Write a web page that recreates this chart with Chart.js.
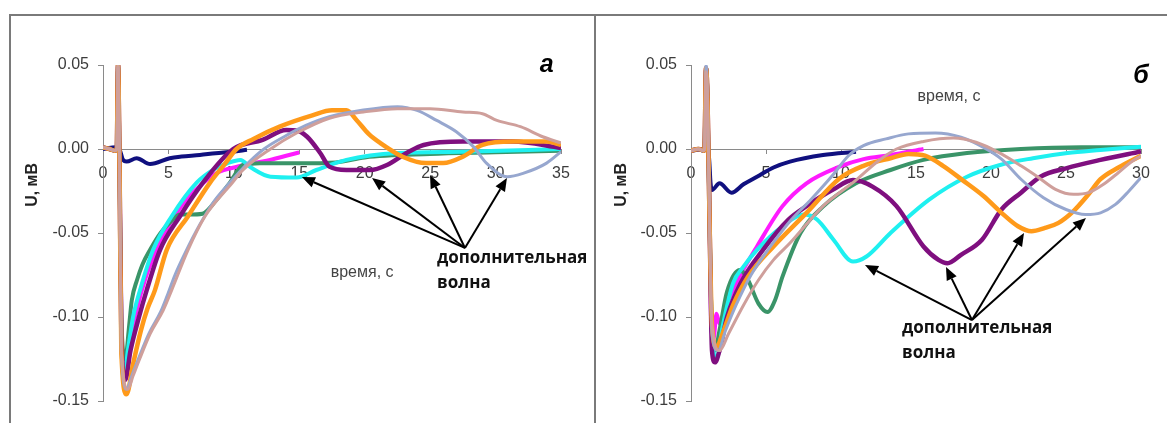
<!DOCTYPE html>
<html>
<head>
<meta charset="utf-8">
<script src="https://cdn.jsdelivr.net/npm/chart.js@4.4.1/dist/chart.umd.min.js"></script>
<style>
  html, body { margin: 0; padding: 0; background: #fff; }
  #wrap { position: relative; width: 1167px; height: 423px; overflow: hidden; background: #fff; }
  .frame { position: absolute; background: #7a7a7a; }
  canvas { position: absolute; top: 0; }
</style>
</head>
<body>
<div id="wrap">
  <div class="frame" style="left:9px;top:14px;width:1158px;height:2px"></div>
  <div class="frame" style="left:9px;top:14px;width:2px;height:409px"></div>
  <div class="frame" style="left:594px;top:14px;width:2px;height:409px"></div>
  <canvas id="chartA" width="594" height="423" style="left:0;width:594px;height:423px"></canvas>
  <canvas id="chartB" width="570" height="423" style="left:597px;width:570px;height:423px"></canvas>
</div>
<script>
// panel а: time, s / U, mV
const a_navy = [[0,0],[1.0,0.001],[1.3,-0.001],[1.5,-0.006],[1.8,-0.0075],[2.57,-0.0055],[3.6,-0.009],[5.1,-0.0055],[6,-0.0045],[7.4,-0.0036],[8.6,-0.0025],[9.9,-0.0016],[11,-0.0005]]
const a_magenta = [[0,0.001],[0.5,0],[0.9,-0.001],[1.05,0],[1.15,0.05],[1.25,0],[1.4,-0.1],[1.6,-0.13],[1.9,-0.128],[2.2,-0.11],[2.6,-0.095],[3.2,-0.078],[4,-0.062],[5,-0.046],[6,-0.034],[7,-0.025],[8,-0.018],[8.9,-0.0135],[10,-0.011],[11,-0.009],[12.5,-0.007],[14,-0.004],[15,-0.002]]
const a_green = [[0,0.001],[0.5,0],[0.9,-0.001],[1.05,0],[1.15,0.05],[1.25,0],[1.4,-0.1],[1.7,-0.125],[2.0,-0.105],[2.2,-0.09],[2.6,-0.078],[3.0,-0.069],[3.6,-0.06],[4.4,-0.05],[5.2,-0.043],[5.9,-0.039],[6.6,-0.039],[7.6,-0.0385],[8.7,-0.03],[9.7,-0.02],[10.7,-0.0095],[12,-0.0085],[15,-0.0085],[17.8,-0.008],[20,-0.005],[25,-0.003],[30,-0.002],[35,-0.001]]
const a_cyan = [[0,0.001],[0.5,0],[0.9,-0.001],[1.05,0],[1.15,0.05],[1.25,0],[1.4,-0.11],[1.6,-0.136],[1.9,-0.12],[2.3,-0.1],[2.83,-0.084],[3.83,-0.06],[5.25,-0.04],[7.16,-0.02],[8.5,-0.012],[9.5,-0.0085],[10.5,-0.0065],[11.3,-0.011],[12.8,-0.0165],[14.8,-0.017],[16.3,-0.0125],[18.6,-0.0065],[22.5,-0.0024],[27.5,-0.0016],[35,0]]
const a_purple = [[0,0.001],[0.5,0],[0.9,-0.001],[1.05,0],[1.15,0.05],[1.25,0],[1.4,-0.11],[1.7,-0.1375],[2.1,-0.12],[2.75,-0.1],[3.34,-0.084],[4.36,-0.06],[5.88,-0.04],[7.64,-0.02],[9.95,0],[12.2,0.0054],[14,0.0113],[14.8,0.011],[15.6,0.0073],[16.6,-0.0024],[17.3,-0.0105],[18.6,-0.0125],[20.4,-0.0125],[21.7,-0.0095],[23.2,-0.0024],[24.5,0.0024],[27.5,0.0044],[31.3,0.0044],[35,0.0006]]
const a_orange = [[0,0.001],[0.5,0],[0.9,-0.001],[1.05,0],[1.15,0.05],[1.25,0],[1.4,-0.12],[1.8,-0.146],[2.3,-0.128],[2.9,-0.108],[3.4,-0.095],[3.97,-0.084],[4.87,-0.06],[6.5,-0.04],[8.18,-0.02],[9.3,-0.009],[10.2,0],[11.5,0.006],[13.5,0.0133],[16,0.02],[17.5,0.023],[18.6,0.023],[19.4,0.017],[20.3,0.009],[21.2,0.0035],[22.9,-0.0046],[24.7,-0.0084],[26,-0.0084],[27.5,-0.0046],[29,0.0024],[31.3,0.0044],[33.9,0.0044],[35,0.0024]]
const a_lightblue = [[0,0.001],[0.5,0],[0.9,-0.001],[1.05,0],[1.15,0.05],[1.25,0],[1.4,-0.12],[1.8,-0.143],[2.2,-0.135],[2.7,-0.125],[3.5,-0.11],[4.4,-0.097],[4.87,-0.088],[5.5,-0.075],[6.27,-0.062],[7.4,-0.045],[8.5,-0.031],[9.7,-0.02],[11,-0.009],[12.3,0],[14,0.008],[15.5,0.014],[17.3,0.0192],[19.9,0.0232],[22.5,0.0252],[24,0.023],[25.5,0.017],[27,0.0103],[28.3,0.0014],[29.3,-0.0084],[30.9,-0.0165],[32.1,-0.0145],[33.9,-0.0084],[35,-0.0016]]
const a_rosy = [[0,0.001],[0.5,0],[0.9,-0.001],[1.05,0],[1.15,0.05],[1.25,0],[1.4,-0.12],[1.9,-0.143],[2.3,-0.135],[2.8,-0.125],[3.6,-0.11],[4.6,-0.096],[5.25,-0.084],[6.5,-0.06],[7.8,-0.04],[9.9,-0.02],[10.7,-0.0125],[12.8,0],[14.8,0.0095],[17.3,0.0183],[19.9,0.022],[22.5,0.024],[25,0.024],[27.5,0.022],[29,0.021],[30.1,0.017],[31.9,0.0133],[33.6,0.0073],[35,0.0036]]

// panel б
const b_navy = [[0,-0.001],[1.0,0],[1.2,-0.005],[1.3,-0.02],[1.4,-0.0244],[1.9,-0.0204],[2.7,-0.026],[3.5,-0.021],[4.4,-0.0165],[5.5,-0.011],[6.6,-0.0075],[8.8,-0.0036],[11,-0.0016]]
const b_magenta = [[0,-0.001],[0.5,0],[0.85,-0.001],[0.9,0],[1.0,0.048],[1.1,0.03],[1.25,-0.05],[1.35,-0.105],[1.5,-0.113],[1.7,-0.098],[1.9,-0.104],[2.5,-0.09],[3.3,-0.075],[4.4,-0.058],[6.1,-0.034],[7.7,-0.0204],[9.9,-0.0105],[11.5,-0.006],[13.3,-0.0036],[15.5,0]]
const b_green = [[0,-0.001],[0.5,0],[0.85,-0.001],[0.9,0],[1.0,0.048],[1.1,0.03],[1.25,-0.05],[1.4,-0.11],[1.6,-0.12],[1.9,-0.108],[2.4,-0.085],[3.27,-0.072],[3.8,-0.078],[4.5,-0.092],[5.1,-0.097],[5.6,-0.09],[6.1,-0.076],[7.3,-0.05],[8.8,-0.0343],[11,-0.0204],[13.3,-0.0125],[15.5,-0.0065],[18.4,-0.0024],[22,0],[26,0.001],[30,0.001]]
const b_cyan = [[0,-0.001],[0.5,0],[0.85,-0.001],[0.9,0],[1.0,0.048],[1.1,0.03],[1.25,-0.05],[1.4,-0.11],[1.7,-0.125],[2.1,-0.106],[2.8,-0.08],[3.5,-0.07],[4.4,-0.06],[6.1,-0.046],[7.5,-0.039],[8.4,-0.042],[9.5,-0.054],[10.8,-0.067],[11.7,-0.064],[13.3,-0.05],[15.9,-0.03],[18.4,-0.0165],[20.6,-0.0095],[22.8,-0.0055],[25.1,-0.0024],[27.3,-0.0006],[30,0.0014]]
const b_purple = [[0,-0.001],[0.5,0],[0.85,-0.001],[0.9,0],[1.0,0.048],[1.1,0.03],[1.25,-0.05],[1.4,-0.12],[1.6,-0.127],[1.9,-0.12],[2.4,-0.1],[3.3,-0.08],[4.8,-0.06],[6.5,-0.042],[7.7,-0.034],[9.5,-0.024],[10.8,-0.0185],[12.1,-0.0224],[13.7,-0.034],[15.5,-0.058],[16.5,-0.066],[17.1,-0.068],[18,-0.063],[19.4,-0.054],[20.7,-0.036],[22,-0.026],[23.3,-0.0165],[25,-0.0115],[27.3,-0.0065],[30,-0.0015]]
const b_orange = [[0,-0.001],[0.5,0],[0.85,-0.001],[0.9,0],[1.0,0.048],[1.1,0.03],[1.25,-0.05],[1.4,-0.105],[1.7,-0.118],[2.1,-0.11],[2.8,-0.093],[3.8,-0.076],[5.5,-0.058],[7.7,-0.038],[9.9,-0.0175],[11.5,-0.01],[13.3,-0.0055],[14.5,-0.003],[15.6,-0.004],[16.8,-0.01],[18.1,-0.0185],[19.5,-0.028],[20.7,-0.038],[21.8,-0.046],[22.7,-0.049],[23.6,-0.047],[24.5,-0.044],[25.5,-0.037],[26.5,-0.027],[27.3,-0.018],[28.5,-0.011],[30,-0.004]]
const b_lightblue = [[0,-0.001],[0.5,0],[0.85,-0.001],[0.9,0],[1.0,0.05],[1.1,0.03],[1.25,-0.05],[1.4,-0.11],[1.8,-0.12],[2.3,-0.108],[3,-0.093],[4,-0.075],[5.3,-0.058],[6.6,-0.043],[8,-0.03],[9.5,-0.015],[10.5,-0.004],[11.5,0.002],[13,0.006],[14.5,0.009],[16.3,0.0095],[18,0.007],[19.5,0.001],[20.7,-0.006],[22,-0.018],[23.5,-0.029],[25,-0.036],[26.3,-0.039],[27.3,-0.038],[28.3,-0.033],[29.2,-0.025],[30,-0.017]]
const b_rosy = [[0,-0.001],[0.5,0],[0.85,-0.001],[0.9,0],[1.0,0.046],[1.1,0.03],[1.25,-0.05],[1.4,-0.105],[1.9,-0.12],[2.5,-0.11],[3.5,-0.093],[4.5,-0.078],[5.5,-0.066],[6.6,-0.056],[8.8,-0.034],[11,-0.0185],[12.5,-0.007],[13.7,0],[15.5,0.0045],[17.5,0.0065],[19,0.004],[20.5,-0.002],[22,-0.01],[23.1,-0.0165],[24.3,-0.024],[25.5,-0.027],[26.5,-0.026],[27.5,-0.021],[28.5,-0.014],[29.3,-0.008],[30,-0.004]]

const yTicks = ['0.05', '0.00', '-0.05', '-0.10', '-0.15']
const xTitle = 'время, с'
const yTitle = 'U, мВ'
const noteLines = ['дополнительная', 'волна']

// arrows: [fromX, fromY, toX, toY] in data units
const a_arrows = [[27.66,-0.0589,15.2,-0.0167],[27.66,-0.0589,20.56,-0.0173],[27.66,-0.0589,24.99,-0.0155],[27.66,-0.0589,30.87,-0.0173]]
const b_arrows = [[18.73,-0.1018,11.6,-0.069],[18.73,-0.1018,17.0,-0.0702],[18.73,-0.1018,22.2,-0.05],[18.73,-0.1018,26.33,-0.041]]

const colors = {
  rosy: '#cf9f9b',
  lightblue: '#97a7cf',
  orange: '#ff9a1a',
  purple: '#7f0f7f',
  cyan: '#1ef0f0',
  green: '#3a9468',
  magenta: '#ff1aff',
  navy: '#10107f',
}
const widths = {rosy: 3, lightblue: 3, orange: 4.5, purple: 4.5, cyan: 4, green: 4, magenta: 4, navy: 4}

function pts(arr) {
  return arr.map(p => ({x: p[0], y: p[1]}))
}

function makeDatasets(series) {
  // first dataset is drawn on top
  return Object.keys(series).map(name => ({
    label: name,
    data: pts(series[name]),
    borderColor: colors[name],
    borderWidth: widths[name],
    pointRadius: 0,
    fill: false,
    cubicInterpolationMode: 'monotone',
  }))
}

const annotPlugin = {
  id: 'annot',
  afterDatasetsDraw(chart, args, opts) {
    const ctx = chart.ctx
    const sx = chart.scales.x
    const sy = chart.scales.y
    ctx.save()
    ctx.strokeStyle = '#000'
    ctx.fillStyle = '#000'
    ctx.lineWidth = 2
    for (const a of opts.arrows) {
      const x0 = sx.getPixelForValue(a[0]), y0 = sy.getPixelForValue(a[1])
      const x1 = sx.getPixelForValue(a[2]), y1 = sy.getPixelForValue(a[3])
      const ang = Math.atan2(y1 - y0, x1 - x0)
      const hl = 13, hw = 5.5
      const bx = x1 - hl * Math.cos(ang), by = y1 - hl * Math.sin(ang)
      ctx.beginPath()
      ctx.moveTo(x0, y0)
      ctx.lineTo(bx, by)
      ctx.stroke()
      ctx.beginPath()
      ctx.moveTo(x1, y1)
      ctx.lineTo(bx + hw * Math.sin(ang), by - hw * Math.cos(ang))
      ctx.lineTo(bx - hw * Math.sin(ang), by + hw * Math.cos(ang))
      ctx.closePath()
      ctx.fill()
    }
    for (const t of opts.texts) {
      ctx.save()
      ctx.font = t.font
      ctx.fillStyle = t.color
      ctx.textAlign = t.align
      ctx.textBaseline = t.baseline
      ctx.translate(sx.getPixelForValue(t.x), sy.getPixelForValue(t.y))
      if (t.rotate) ctx.rotate(t.rotate)
      ctx.fillText(t.text, 0, 0)
      ctx.restore()
    }
    ctx.restore()
  }
}

const tickFont = {family: 'Liberation Sans, Arial, sans-serif', size: 16}
const tickColor = '#3c3c3c'
const axisColor = '#8a8a8a'

function makeChart(canvasId, series, xMax, yAxisWidth, padRight, arrows, texts) {
  return new Chart(document.getElementById(canvasId).getContext('2d'), {
    type: 'line',
    data: {datasets: makeDatasets(series)},
    plugins: [annotPlugin],
    options: {
      responsive: false,
      animation: false,
      maintainAspectRatio: false,
      layout: {padding: {left: 0, right: padRight, top: 65, bottom: 22}},
      plugins: {
        legend: {display: false},
        tooltip: {enabled: false},
        annot: {arrows: arrows, texts: texts},
      },
      scales: {
        x: {
          type: 'linear',
          min: 0,
          max: xMax,
          position: {y: 0},
          afterFit: s => { s.height = 0 },
          ticks: {stepSize: 5, font: tickFont, color: tickColor, padding: 11, maxRotation: 0, autoSkip: false},
          grid: {drawOnChartArea: false, tickLength: 4, color: axisColor},
          border: {color: axisColor, width: 1},
        },
        y: {
          type: 'linear',
          min: -0.15,
          max: 0.05,
          afterFit: s => { s.width = yAxisWidth },
          ticks: {
            stepSize: 0.05,
            font: tickFont,
            color: tickColor,
            padding: 9,
            callback: (v, i) => yTicks[yTicks.length - 1 - i],
          },
          grid: {drawOnChartArea: false, tickLength: 5, color: axisColor},
          border: {color: axisColor, width: 1},
        },
      },
    },
  })
}

const noteFont = 'bold 17px "Open Sans", "Noto Sans", sans-serif'
const titleFont = '16px "Liberation Sans", Arial, sans-serif'
const yTitleFont = 'bold 16px "Liberation Sans", Arial, sans-serif'
const markFont = 'bold italic 25px "Liberation Sans", Arial, sans-serif'

makeChart('chartA',
  {rosy: a_rosy, lightblue: a_lightblue, orange: a_orange, purple: a_purple, cyan: a_cyan, green: a_green, magenta: a_magenta, navy: a_navy},
  35, 103, 33, a_arrows,
  [
    {text: xTitle, x: 19.8, y: -0.0738, font: titleFont, color: '#444', align: 'center', baseline: 'middle'},
    {text: noteLines[0], x: 25.52, y: -0.0649, font: noteFont, color: '#111', align: 'left', baseline: 'middle'},
    {text: noteLines[1], x: 25.52, y: -0.0798, font: noteFont, color: '#111', align: 'left', baseline: 'middle'},
    {text: 'а', x: 33.9, y: 0.0458, font: markFont, color: '#000', align: 'center', baseline: 'alphabetic'},
    {text: yTitle, x: -5.35, y: -0.0214, font: yTitleFont, color: '#222', align: 'center', baseline: 'middle', rotate: -Math.PI / 2},
  ])

makeChart('chartB',
  {rosy: b_rosy, lightblue: b_lightblue, orange: b_orange, purple: b_purple, cyan: b_cyan, green: b_green, magenta: b_magenta, navy: b_navy},
  30, 94, 26, b_arrows,
  [
    {text: xTitle, x: 17.2, y: 0.031, font: titleFont, color: '#444', align: 'center', baseline: 'middle'},
    {text: noteLines[0], x: 14.07, y: -0.1065, font: noteFont, color: '#111', align: 'left', baseline: 'middle'},
    {text: noteLines[1], x: 14.07, y: -0.1214, font: noteFont, color: '#111', align: 'left', baseline: 'middle'},
    {text: 'б', x: 30.0, y: 0.0393, font: markFont, color: '#000', align: 'center', baseline: 'alphabetic'},
    {text: yTitle, x: -4.6, y: -0.0214, font: yTitleFont, color: '#222', align: 'center', baseline: 'middle', rotate: -Math.PI / 2},
  ])
</script>
</body>
</html>
